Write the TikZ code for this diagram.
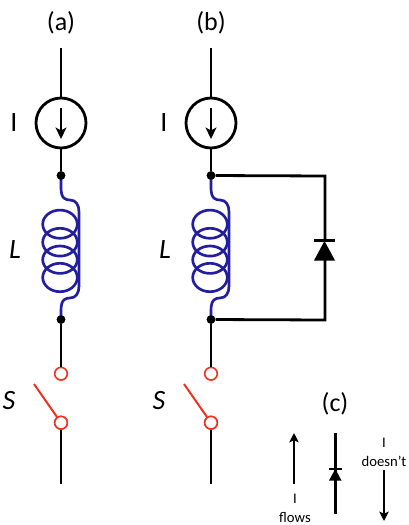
\documentclass[tikz,border=0pt]{standalone}
\usepackage{fontspec}
\setmainfont{Carlito}
\usetikzlibrary{arrows.meta}
\definecolor{coilblue}{RGB}{35,30,160}
\definecolor{swred}{RGB}{240,50,30}
\tikzset{
  wire/.style={line width=2.1pt,black},
  thin wire/.style={line width=1.3pt,black},
  dotnode/.style={circle,fill=black,inner sep=0pt,minimum size=6.4pt},
  source/.style={circle,draw=black,line width=2.1pt,inner sep=0pt,minimum size=37.5pt},
  contact/.style={circle,draw=swred,line width=1.2pt,fill=white,inner sep=0pt,minimum size=9.5pt},
  coil/.style={line width=2pt,coilblue},
  swarm/.style={line width=1.5pt,swred},
  big/.style={font=\fontsize{19.5}{20}\selectfont,inner sep=0pt},
  symb/.style={font=\fontsize{21}{22}\selectfont,inner sep=0pt},
  small/.style={font=\fontsize{11}{12}\selectfont,inner sep=0pt},
  dtri/.style={fill=black,draw=none},
}
\newcommand{\branch}[3]{%
  \coordinate (#1top) at (#2,48);
  \node[source] (#1src) at (#2,123) {};
  \coordinate (#1at) at (#2,108);
  \coordinate (#1ab) at (#2,139);
  \node[dotnode] (#1d1) at (#2,175.5) {};
  \node[dotnode] (#1d2) at (#2,319.5) {};
  \node[contact] (#1c1) at (#2,373.7) {};
  \node[contact] (#1c2) at (#2,422.7) {};
  \coordinate (#1bot) at (#2,484);
  \node[big] (#1title) at (#2,23) {#3};
  \node[symb] (#1I) at ([xshift=-47*0.75pt]#2,123) {I};
  \node[symb] (#1L) at ([xshift=-46*0.75pt]#2,250) {\itshape L};
  \node[symb] (#1S) at ([xshift=-52*0.75pt]#2,401) {\itshape S};
  \draw[wire] (#1top) -- (#1src);
  \draw[wire] (#1src) -- (#1d1);
  \draw[wire,-{Stealth[length=8.5pt,width=8pt,inset=2pt]}] (#1at) -- (#1ab);
  \draw[wire] (#1d2) -- (#1c1);
  \draw[wire] (#1c2) -- (#1bot);
  \begin{scope}[shift={(#2,0)}]
    \draw[coil] (-1,224.2) ellipse [x radius=17.3,y radius=14.1];
    \draw[coil] (-1,242.2) ellipse [x radius=17.3,y radius=13.9];
    \draw[coil] (-1,259.7) ellipse [x radius=17.3,y radius=13.7];
    \draw[coil] (-1,277.5) ellipse [x radius=17.3,y radius=14.2];
    \draw[coil] (0,176) -- (0,188) .. controls (0,199) and (5,200) .. (9,200)
      .. controls (15,200) and (18,205) .. (18,212) -- (18,286)
      .. controls (18,293) and (15,298) .. (9,298)
      .. controls (5,298) and (0,299) .. (0,310) -- (0,319);
    \coordinate (#1a1) at (-27,384);
    \coordinate (#1a2) at (-4,417);
  \end{scope}
  \node[dotnode] at (#1d1) {};
  \node[dotnode] at (#1d2) {};
  \draw[swarm] (#1a1) -- (#1a2);
  \node[contact] at (#1c2) {};
}
\begin{document}
\begin{tikzpicture}[x=0.75pt,y=-0.75pt]
\useasboundingbox (0,0) rectangle (409,525);
\branch{a}{61}{(a)}
\branch{b}{211}{(b)}
% parallel diode in (b)
\coordinate (rt) at (325,176);
\coordinate (rb) at (325,320);
\coordinate (bar) at (325,240.5);
\coordinate (base) at (325,260);
\draw[wire,line join=miter] (bd1) -- (rt) -- (bar);
\draw[wire,line join=miter] (bd2) -- (rb) -- (base);
\draw[line width=2pt] (314,240.5) -- (335,240.5);
\fill[dtri] (324.5,241) -- (335,260.5) -- (314,260.5) -- cycle;
% (c)
\node[big] (ctitle) at (335,404) {(c)};
\coordinate (ua) at (294,484);
\coordinate (ub) at (294,433);
\coordinate (da) at (384,470);
\coordinate (db) at (384,521);
\coordinate (c1) at (335.3,433);
\coordinate (c2) at (335.3,514);
\draw[thin wire,-{Stealth[length=7pt,width=7pt,inset=1.5pt]}] (ua) -- (ub);
\draw[thin wire,-{Stealth[length=7pt,width=7pt,inset=1.5pt]}] (da) -- (db);
\draw[wire] (c1) -- (c2);
\draw[line width=1.6pt] (329,469) -- (341.5,469);
\fill[dtri] (335.3,469) -- (341.5,480.5) -- (329,480.5) -- cycle;
\node[small] (fi) at (295,499) {I};
\node[small] (fl) at (295,517) {flows};
\node[small] (di) at (384,443) {I};
\node[small] (dl) at (384,461) {doesn't};
\end{tikzpicture}
\end{document}
